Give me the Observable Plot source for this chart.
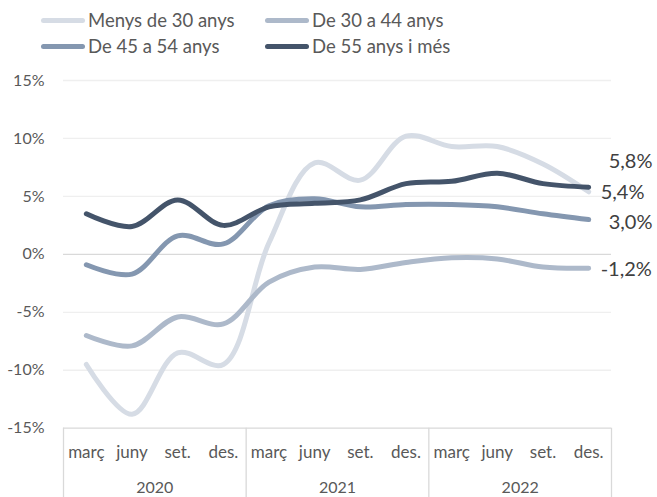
<!DOCTYPE html>
<html><head><meta charset="utf-8">
<script src="https://cdn.jsdelivr.net/npm/d3@7"></script>
<script src="https://cdn.jsdelivr.net/npm/@observablehq/plot@0.6"></script>
<style>
body{margin:0;background:#fff;font-family:Lato,sans-serif;}
#legend{position:relative;height:60px;width:657px;}
.item{position:absolute;display:flex;align-items:center;font-size:18.5px;color:#595959;height:20px;}
.sw{width:44px;height:5px;border-radius:3px;margin-right:3px;}
</style></head><body>
<div id="legend"></div><div id="chart"></div>
<script>
const years = ["2020", "2021", "2022"];
const months = ["març", "juny", "set.", "des."];
const series = ["Menys de 30 anys", "De 30 a 44 anys", "De 45 a 54 anys", "De 55 anys i més"];
const colors = ["#d6dce5", "#adb9ca", "#8497b0", "#44546a"];
const menys30 = [-9.5, -13.8, -8.5, -9.5, 1.0, 7.9, 6.4, 10.2, 9.3, 9.3, 7.8, 5.4];
const de30a44 = [-7.0, -7.9, -5.4, -6.0, -2.4, -1.1, -1.3, -0.7, -0.3, -0.4, -1.1, -1.2];
const de45a54 = [-0.9, -1.7, 1.6, 0.9, 4.2, 4.8, 4.1, 4.3, 4.3, 4.1, 3.5, 3.0];
const de55 = [3.5, 2.4, 4.7, 2.5, 4.1, 4.4, 4.7, 6.1, 6.3, 7.0, 6.1, 5.8];
const yTicks = [-15, -10, -5, 0, 5, 10, 15];

const values = [menys30, de30a44, de45a54, de55];
const periods = years.flatMap(y => months.map(m => ({year: y, month: m})));
const data = series.flatMap((s, k) => values[k].map((v, i) => ({s, i, v})));
const last = series.map((s, k) => ({s, i: periods.length - 1, v: values[k][values[k].length - 1]}));
const fmt = v => v.toFixed(1).replace(".", ",") + "%";

// legend
const legend = document.getElementById("legend");
const pos = [[41, 10], [265, 10], [41, 36], [265, 36]];
series.forEach((s, k) => {
  const d = document.createElement("div");
  d.className = "item";
  d.style.left = pos[k][0] + "px";
  d.style.top = pos[k][1] + "px";
  d.innerHTML = `<span class="sw" style="background:${colors[k]}"></span><span>${s}</span>`;
  legend.appendChild(d);
});

const H = 437, mt = 20, mb = 69.3;
const pxPerUnit = (H - mt - mb) / 30;
const yBottom = -15 - mb / pxPerUnit;
const bounds = d3.range(0, periods.length + 1, 4).map(b => b - 0.5);
const yearPos = years.map((y, j) => ({year: y, i: j * 4 + 1.5}));
const offs = {
  "Menys de 30 anys": [12, 1],
  "De 30 a 44 anys": [12, 1],
  "De 45 a 54 anys": [20, 3],
  "De 55 anys i més": [20, -26]
};

const chart = Plot.plot({
  width: 657, height: H,
  marginTop: mt, marginBottom: mb, marginLeft: 63, marginRight: 46,
  style: {fontFamily: "Lato, sans-serif", fontSize: "16px", color: "#595959", background: "#fff"},
  x: {type: "linear", domain: [-0.5, periods.length - 0.5], axis: null},
  y: {domain: [-15, 15], ticks: yTicks, tickFormat: d => d + "%", tickSize: 0, tickPadding: 19, label: null},
  color: {domain: series, range: colors},
  marks: [
    Plot.ruleY(yTicks, {stroke: d => (d === 0 || d === -15) ? "#d9d9d9" : "#efefef", strokeWidth: 1.3}),
    Plot.ruleX(bounds, {y1: -15, y2: yBottom, stroke: "#d9d9d9", strokeWidth: 1.3}),
    Plot.line(data, {x: "i", y: "v", z: "s", stroke: "s", strokeWidth: 5, curve: "catmull-rom", strokeLinecap: "round", strokeLinejoin: "round"}),
    Plot.text(periods, {x: (d, i) => i, y: () => -15, text: "month", dy: 24, fill: "#595959", fontSize: 17}),
    Plot.text(yearPos, {x: "i", y: () => -15, text: "year", dy: 60, fill: "#595959", fontSize: 16}),
    ...last.map(d => Plot.text([d], {x: "i", y: "v", text: e => fmt(e.v), textAnchor: "start", dx: offs[d.s][0], dy: offs[d.s][1], fill: "#404040", fontSize: 20}))
  ]
});
document.getElementById("chart").appendChild(chart);
</script>
</body></html>
